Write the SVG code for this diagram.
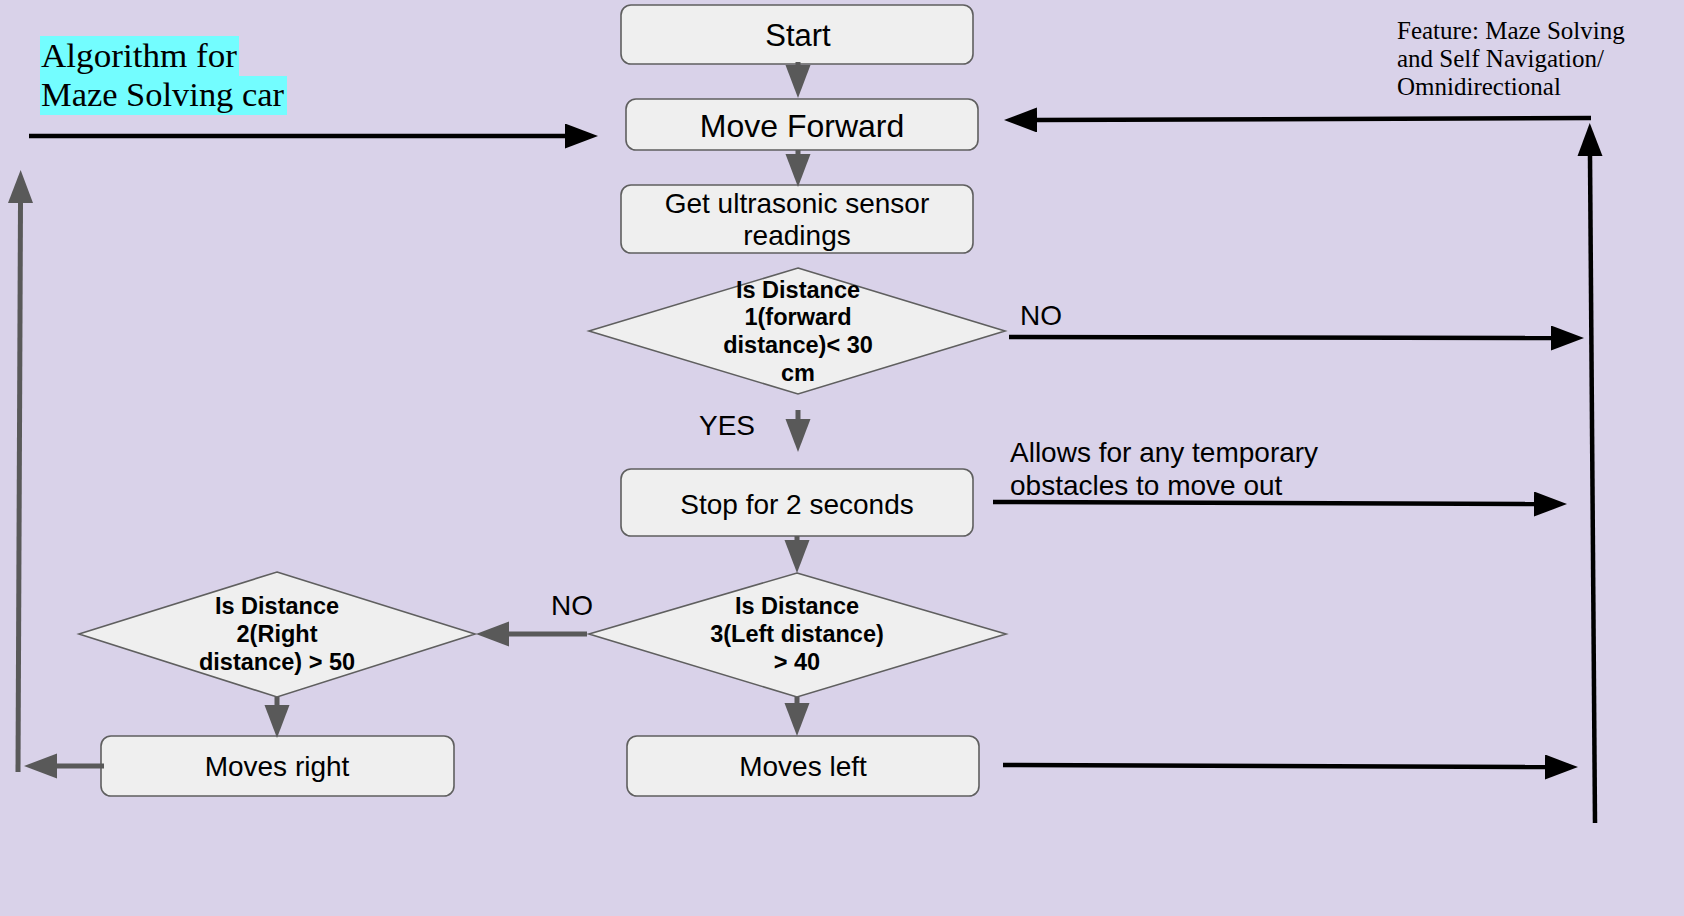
<svg xmlns="http://www.w3.org/2000/svg" width="1684" height="916" viewBox="0 0 1684 916">
<defs>
<style>
.node{fill:#efefef;stroke:#5f5f5f;stroke-width:1.6}
.t{font-family:"Liberation Sans",Arial,sans-serif;fill:#000;text-anchor:middle}
.b{font-weight:bold;font-size:23.5px}
.lbl{font-family:"Liberation Sans",Arial,sans-serif;fill:#000;font-size:28px}
.serif{font-family:"Liberation Serif","Times New Roman",serif;fill:#000}
.g{stroke:#595959;stroke-width:5;fill:none}
.k{stroke:#000;stroke-width:4.5;fill:none}
</style>
<marker id="ag" markerUnits="userSpaceOnUse" markerWidth="34" markerHeight="26" refX="0" refY="12.5" orient="auto"><path d="M0,0 L33,12.5 L0,25 z" fill="#595959"/></marker>
<marker id="ak" markerUnits="userSpaceOnUse" markerWidth="34" markerHeight="26" refX="0" refY="12.5" orient="auto"><path d="M0,0 L33,12.5 L0,25 z" fill="#000"/></marker>
</defs>
<rect x="0" y="0" width="1684" height="916" fill="#d9d2e9"/>

<g id="title">
<rect x="40" y="36" width="199" height="40" fill="#73fdff"/>
<rect x="40" y="76" width="247" height="39" fill="#73fdff"/>
<text class="serif" x="41" y="67" font-size="34" textLength="196" lengthAdjust="spacingAndGlyphs">Algorithm for</text>
<text class="serif" x="41" y="106" font-size="34" textLength="243" lengthAdjust="spacingAndGlyphs">Maze Solving car</text>
</g>

<g id="feature">
<text class="serif" font-size="25"><tspan x="1397" y="39">Feature: Maze Solving</tspan><tspan x="1397" y="67">and Self Navigation/</tspan><tspan x="1397" y="95">Omnidirectional</tspan></text>
</g>

<g id="start">
<rect class="node" x="621" y="5" width="352" height="59" rx="10"/>
<text class="t" x="798" y="46" font-size="31">Start</text>
</g>

<g id="move-forward">
<rect class="node" x="626" y="99" width="352" height="51" rx="10"/>
<text class="t" x="802" y="137" font-size="32">Move Forward</text>
</g>

<g id="get-readings">
<rect class="node" x="621" y="185" width="352" height="68" rx="10"/>
<text class="t" font-size="28"><tspan x="797" y="213">Get ultrasonic sensor</tspan><tspan x="797" y="245">readings</tspan></text>
</g>

<g id="decision-forward">
<polygon class="node" points="798,268 1005,331 798,394 589,331"/>
<text class="t b"><tspan x="798" y="298">Is Distance</tspan><tspan x="798" y="325">1(forward</tspan><tspan x="798" y="353">distance)&lt; 30</tspan><tspan x="798" y="381">cm</tspan></text>
</g>

<g id="stop">
<rect class="node" x="621" y="469" width="352" height="67" rx="10"/>
<text class="t" x="797" y="514" font-size="28">Stop for 2 seconds</text>
</g>

<g id="decision-left">
<polygon class="node" points="797,573 1006,634 797,697 589,634"/>
<text class="t b"><tspan x="797" y="614">Is Distance</tspan><tspan x="797" y="642">3(Left distance)</tspan><tspan x="797" y="670">&gt; 40</tspan></text>
</g>

<g id="decision-right">
<polygon class="node" points="277,572 475,634 277,697 79,634"/>
<text class="t b"><tspan x="277" y="614">Is Distance</tspan><tspan x="277" y="642">2(Right</tspan><tspan x="277" y="670">distance) &gt; 50</tspan></text>
</g>

<g id="moves-left">
<rect class="node" x="627" y="736" width="352" height="60" rx="10"/>
<text class="t" x="803" y="776" font-size="28">Moves left</text>
</g>

<g id="moves-right">
<rect class="node" x="101" y="736" width="353" height="60" rx="10"/>
<text class="t" x="277" y="776" font-size="28">Moves right</text>
</g>

<g id="connectors">
<path class="g" d="M798,62 L798,65" marker-end="url(#ag)"/>
<path class="g" d="M798,150 L798,154" marker-end="url(#ag)"/>
<path class="g" d="M798,410 L798,419" marker-end="url(#ag)"/>
<path class="g" d="M797,536 L797,540" marker-end="url(#ag)"/>
<path class="g" d="M797,697 L797,703" marker-end="url(#ag)"/>
<path class="g" d="M587,634 L509,634" marker-end="url(#ag)"/>
<path class="g" d="M277,697 L277,705" marker-end="url(#ag)"/>
<path class="g" d="M104,766 L57,766" marker-end="url(#ag)"/>
<path class="g" d="M18,772 L20.5,203" marker-end="url(#ag)"/>

<path class="k" d="M29,136 L565,136" marker-end="url(#ak)"/>
<path class="k" d="M1591,118 L1037,120" marker-end="url(#ak)"/>
<path class="k" d="M1595,823 L1590,156" marker-end="url(#ak)"/>
<path class="k" d="M1009,337 L1551,338" marker-end="url(#ak)"/>
<path class="k" d="M993,502 L1534,504" marker-end="url(#ak)"/>
<path class="k" d="M1003,765 L1545,767" marker-end="url(#ak)"/>

<text class="lbl" x="699" y="435" font-size="29">YES</text>
<text class="lbl" x="1020" y="325">NO</text>
<text class="lbl" x="551" y="615">NO</text>
<text class="lbl"><tspan x="1010" y="462">Allows for any temporary</tspan><tspan x="1010" y="495">obstacles to move out</tspan></text>
</g>
</svg>
